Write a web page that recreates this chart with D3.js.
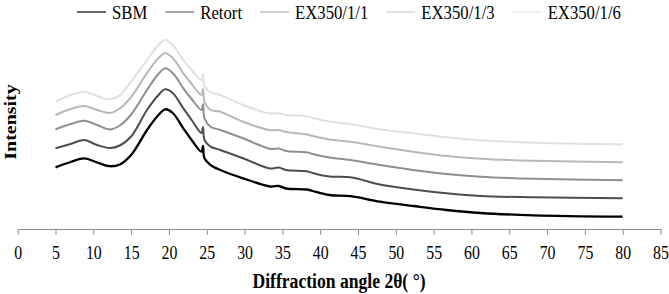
<!DOCTYPE html>
<html>
<head>
<meta charset="utf-8">
<script src="https://cdn.jsdelivr.net/npm/d3@7"></script>
<style>
    html, body { margin: 0; padding: 0; background: #fff; }
    svg { display: block; font-family: 'Liberation Serif', 'Times New Roman', serif; }
    .x-axis-xrd .domain, .x-axis-xrd line { stroke: #8c8c8c; }
    .xrd-line { fill: none; stroke-linejoin: round; }
</style>
</head>
<body>
<div class="xrd-chart"></div>
<script>
// diffraction angles (2θ, degrees) the traces were read at
const angles = [5, 7, 8.8, 10.5, 12.2, 13.5, 15, 17.1, 18.5, 19.5, 20.5, 21.9, 23, 24.3, 24.5, 24.7,
    25.5, 26.8, 29.8, 33.4, 34.5, 35.5, 38.2, 39, 41.2, 44, 47.9, 52.3, 56.7, 61.2, 68.2, 80];

// intensity (a.u., traces are stacked)
const sbm = [61.7, 67, 70.7, 66.5, 62.8, 64.5, 74, 99, 113, 119.7, 116, 100.7, 89, 77.3, 83, 70.7,
    64, 59, 50.7, 42.5, 43, 40.5, 39.5, 38, 34, 32.8, 27.3, 23, 19, 16, 13.7, 12.3];
const retort = [80.7, 85, 89, 84, 81, 83.5, 92.5, 119, 133, 139.7, 136, 120.7, 109, 96, 102, 89,
    82.3, 79, 70.7, 60.5, 61.5, 59, 57.8, 56, 52.5, 51.7, 44.5, 39.5, 35.7, 33, 31.7, 30.7];
const ex350_1_1 = [99.7, 105, 108.3, 104, 99.5, 103.5, 114.5, 139, 154, 160.7, 156, 140.7, 130, 119, 125, 110.7,
    102.3, 99, 90.7, 80, 80.5, 78, 76.8, 75, 71.5, 69, 64, 59, 55, 52.3, 50.3, 48.7];
const ex350_1_3 = [114, 120, 123, 119, 116, 120.5, 132, 156, 170, 175.7, 171, 155.7, 145, 134, 140, 127.3,
    119, 117.3, 107.3, 98.8, 99, 97, 94.5, 93, 89.5, 87.3, 82.3, 77.3, 73, 70.3, 68.3, 66.7];
const ex350_1_6 = [127.3, 134, 137.3, 133, 129.5, 133.5, 147.5, 169, 183, 189, 184, 169, 159, 149, 155, 142.3,
    137, 134, 124, 115.5, 115.8, 114, 112.8, 111, 107.5, 105, 99.7, 95.7, 91.7, 88.8, 86.3, 84.7];

const seriesNames = ['SBM', 'Retort', 'EX350/1/1', 'EX350/1/3', 'EX350/1/6'];
const seriesValues = [sbm, retort, ex350_1_1, ex350_1_3, ex350_1_6];
const xTicks = [0, 5, 10, 15, 20, 25, 30, 35, 40, 45, 50, 55, 60, 65, 70, 75, 80, 85];

const colours = ['#000000', '#4d4d4d', '#8f8f8f', '#b8b8b8', '#e0e0e0'];
const legendColours = ['#000000', '#6e6e6e', '#b0b0b0', '#cfcfcf', '#e6e6e6'];
const squeeze = 0.88; // the original text is a bit narrow

class XrdChart {
    constructor() {
        this.container = document.querySelector('.xrd-chart');
        this.width = 669;
        this.height = 294;

        this.appendSVG();
        this.scaleX();
        this.scaleY();
        this.addXAxis();
        this.addLines();
        this.addLegend();
        this.addLabels();
    }

    appendSVG() {
        this.svg = d3.select(this.container)
            .append('svg')
            .attr('width', this.width)
            .attr('height', this.height);
    }

    scaleX() {
        this.x = d3.scaleLinear().domain([0, 85]).range([17.7, 660.5]);
    }

    scaleY() {
        this.y = d3.scaleLinear().domain([0, 200]).range([229, 29]);
    }

    addXAxis() {
        const axis = this.svg.append('g')
            .attr('class', 'x-axis-xrd')
            .attr('transform', `translate(0,${this.y(0)})`)
            .call(d3.axisBottom(this.x)
                .tickValues(xTicks)
                .tickFormat(d3.format('d'))
                .tickSize(6)
                .tickSizeOuter(0));

        axis.select('.domain').attr('stroke-width', 1.2);
        axis.selectAll('text')
            .attr('y', 30)
            .attr('dy', 0)
            .attr('fill', '#000')
            .style('font-family', "'Liberation Serif', serif")
            .style('font-size', '18px')
            .attr('transform', `scale(${squeeze},1)`);
    }

    addLines() {
        const line = d3.line()
            .x((d) => this.x(d[0]))
            .y((d) => this.y(d[1]))
            .curve(d3.curveCatmullRom.alpha(0.5));

        // draw lightest first so the darker traces sit on top
        seriesValues.map((vals, i) => ({ i, pts: angles.map((a, j) => [a, vals[j]]) }))
            .reverse()
            .forEach((s) => {
                this.svg.append('path')
                    .attr('class', 'xrd-line')
                    .attr('d', line(s.pts))
                    .attr('stroke', colours[s.i])
                    .attr('stroke-width', s.i === 0 ? 2.3 : 2);
            });
    }

    addLegend() {
        const legend = this.svg.append('g').attr('class', 'legend-xrd');
        let xPos = 77;

        seriesNames.forEach((name, i) => {
            legend.append('line')
                .attr('x1', xPos)
                .attr('x2', xPos + 29)
                .attr('y1', 12)
                .attr('y2', 12)
                .attr('stroke', legendColours[i])
                .attr('stroke-width', 1.2);

            const label = legend.append('text')
                .attr('transform', `translate(${xPos + 35},19) scale(${squeeze},1)`)
                .style('font-size', '19px')
                .text(name);

            xPos += 35 + label.node().getComputedTextLength() * squeeze + 18;
        });
    }

    addLabels() {
        this.svg.append('text')
            .attr('transform', `translate(339,288) scale(${squeeze},1)`)
            .attr('text-anchor', 'middle')
            .style('font-size', '20px')
            .style('font-weight', 'bold')
            .text('Diffraction angle 2θ( °)');

        this.svg.append('text')
            .attr('transform', `translate(16,122) rotate(-90) scale(1,${squeeze})`)
            .attr('text-anchor', 'middle')
            .style('font-size', '20px')
            .style('font-weight', 'bold')
            .text('Intensity');
    }
}

new XrdChart();
</script>
</body>
</html>
